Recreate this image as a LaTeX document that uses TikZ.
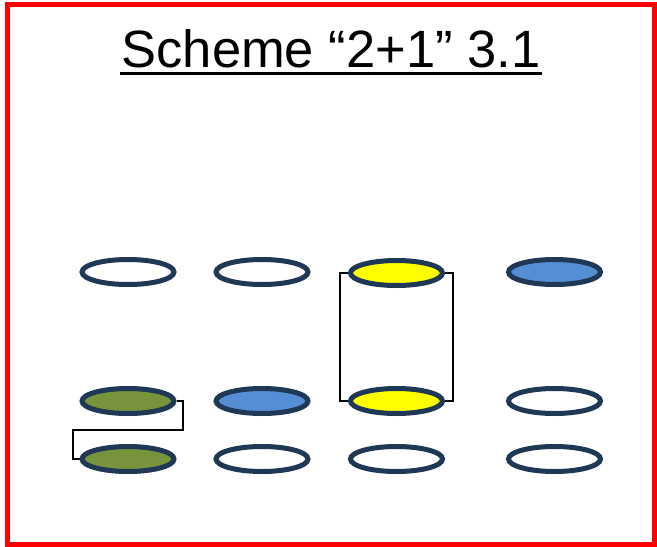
\documentclass[tikz,border=0pt]{standalone}
\usepackage{fontspec}
\setmainfont{Liberation Sans}
\usetikzlibrary{shapes.geometric,backgrounds}
\definecolor{ringc}{RGB}{31,56,86}
\definecolor{bluef}{RGB}{85,142,213}
\definecolor{greenf}{RGB}{119,147,60}
\definecolor{yellowf}{RGB}{255,255,0}
\definecolor{framec}{RGB}{255,0,0}
\tikzset{
  disc/.style={ellipse, draw=ringc, line width=5pt, minimum width=92pt, minimum height=25pt, inner sep=0pt, fill=white},
  link/.style={draw=black, line width=2pt},
}
\begin{document}
\begin{tikzpicture}[x=1pt,y=-1pt]
\useasboundingbox (0,0) rectangle (657,547);
\draw[framec, line width=5pt] (7.5,4.5) rectangle (654.5,544);
\node[font=\fontsize{52.5}{60}\selectfont, inner sep=0pt, anchor=base] (title) at (331,67) {Scheme “2+1” 3.1};
\draw[line width=3pt] ([yshift=-6pt,xshift=-1pt]title.base west) -- ([yshift=-6pt,xshift=1pt]title.base east);
% row 1
\node[disc] (a1) at (128,272) {};
\node[disc] (b1) at (262,272) {};
\node[disc, fill=yellowf] (c1) at (396.5,273) {};
\node[disc, fill=bluef] (d1) at (554.5,272) {};
% row 2
\node[disc, fill=greenf] (a2) at (128,401) {};
\node[disc, fill=bluef] (b2) at (262,401) {};
\node[disc, fill=yellowf] (c2) at (396.5,401) {};
\node[disc] (d2) at (554.5,401) {};
% row 3
\node[disc, fill=greenf] (a3) at (128,459) {};
\node[disc] (b3) at (262,459) {};
\node[disc] (c3) at (396.5,459) {};
\node[disc] (d3) at (554.5,459) {};
\begin{scope}[on background layer]
\draw[link] (a2.east) -- (183,401) -- (183,430) -- (73,430) -- (73,459) -- (a3.west);
\draw[link] (c1.west) -- (340,273) -- (340,401) -- (c2.west);
\draw[link] (c1.east) -- (453,273) -- (453,401) -- (c2.east);
\end{scope}
\end{tikzpicture}
\end{document}
